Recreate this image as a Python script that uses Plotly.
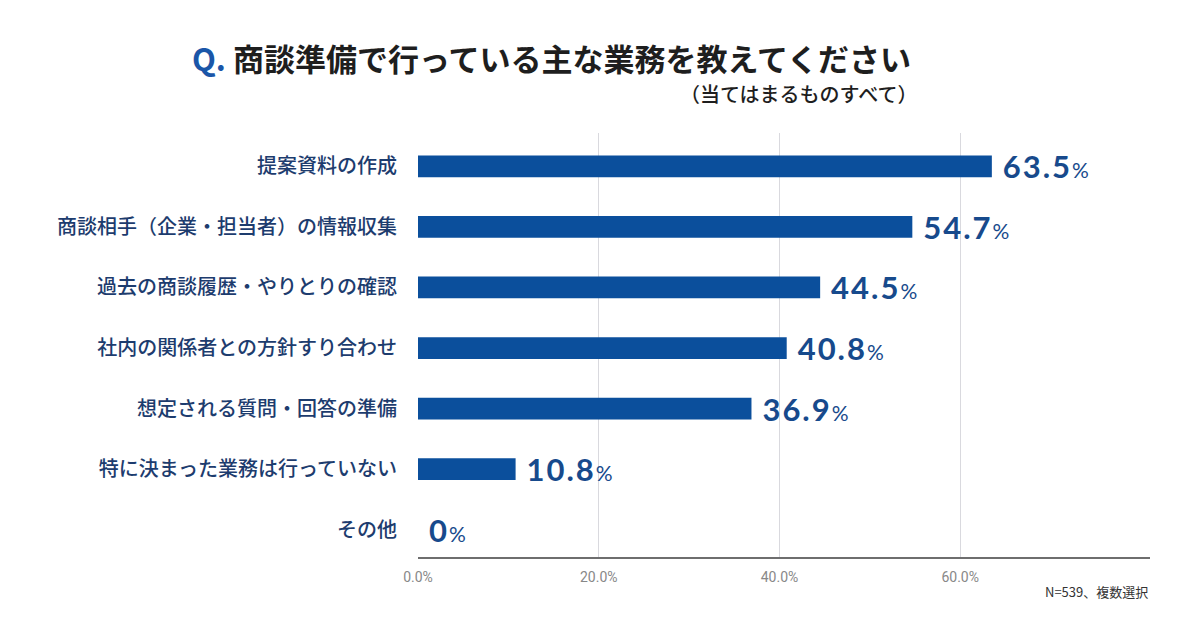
import plotly.graph_objects as go

# 項目と回答率（%）
categories = [
    "提案資料の作成",
    "商談相手（企業・担当者）の情報収集",
    "過去の商談履歴・やりとりの確認",
    "社内の関係者との方針すり合わせ",
    "想定される質問・回答の準備",
    "特に決まった業務は行っていない",
    "その他",
]
values = [63.5, 54.7, 44.5, 40.8, 36.9, 10.8, 0]
x_ticks = [0, 20, 40, 60]
x_tick_labels = ["0.0%", "20.0%", "40.0%", "60.0%"]

BLUE = "#0b4f9c"
NAVY = "#1d3c6e"
JP = "Noto Sans CJK JP"

labels = [
    "<span style='letter-spacing:2px'><b>%s</b></span>"
    "<span style='font-size:21px;font-weight:normal'>%%</span>"
    % (("%g" % v) if v == 0 else ("%.1f" % v))
    for v in values
]

fig = go.Figure(go.Bar(
    x=values,
    y=categories,
    orientation="h",
    marker=dict(color=BLUE, line=dict(width=0)),
    text=["&nbsp;" + t for t in labels],
    textposition="outside",
    constraintext="none",
    cliponaxis=False,
    textfont=dict(family="Lato, " + JP, size=31, color="#174a8c"),
    hoverinfo="x+y",
))

fig.update_layout(
    width=1200, height=628,
    paper_bgcolor="white", plot_bgcolor="white",
    margin=dict(l=410, r=58, t=125, b=79),
    bargap=0.64,
    showlegend=False,
    font=dict(family=JP),
)

fig.update_xaxes(
    range=[0, 81],
    tickvals=x_ticks, ticktext=x_tick_labels,
    showgrid=True, gridcolor="#d9d9de", gridwidth=1,
    zeroline=False,
    showline=True, linecolor="#6e6e6e", linewidth=2,
    ticks="", ticklabelstandoff=6,
    tickfont=dict(family="Roboto, " + JP, size=14, color="#888888"),
)
fig.update_yaxes(
    range=[6.45, -0.55],
    showgrid=False, zeroline=False, showline=False,
    ticks="", ticklabelstandoff=20,
    tickfont=dict(family=JP, size=20, color=NAVY, weight=500),
)

# タイトル
fig.add_annotation(
    xref="paper", yref="paper", x=-0.3115, y=1.177, xanchor="left", yanchor="middle",
    text="<span style='color:#1a56a8'>Q.</span> 商談準備で行っている主な業務を教えてください",
    showarrow=False, font=dict(family=JP, size=31, color="#1e1e1e", weight="bold"),
)
fig.add_annotation(
    xref="paper", yref="paper", x=0.685, y=1.092, xanchor="right", yanchor="middle",
    text="（当てはまるものすべて）",
    showarrow=False, font=dict(family=JP, size=20, color="#1e1e1e", weight=500),
)
fig.add_annotation(
    xref="paper", yref="paper", x=1.0, y=-0.0825, xanchor="right", yanchor="middle",
    text="N=539、複数選択",
    showarrow=False, font=dict(family=JP, size=13, color="#333333"),
)

fig.write_html("out.html")
